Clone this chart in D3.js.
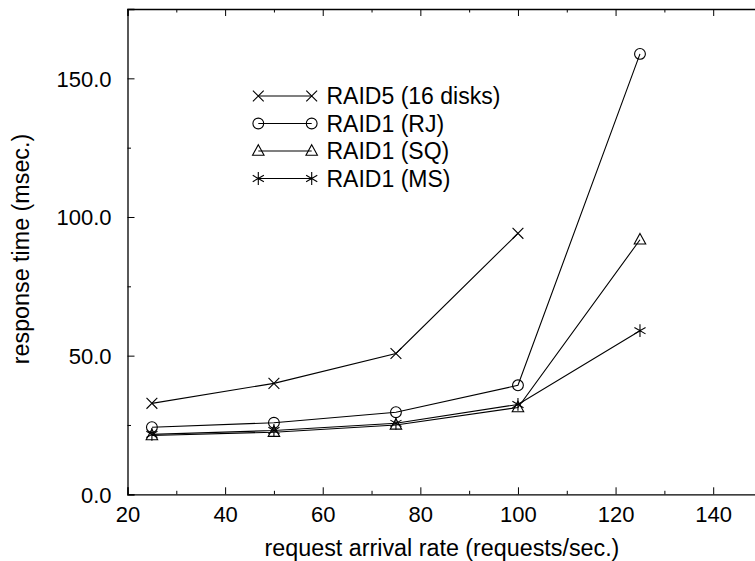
<!DOCTYPE html>
<html>
<head>
<meta charset="utf-8">
<script src="https://cdn.jsdelivr.net/npm/d3@7"></script>
<style>
  html, body { margin: 0; padding: 0; background: #fff; }
  svg { display: block; }
  text { font-family: "Liberation Sans", Arial, Helvetica, sans-serif; fill: #000; }
</style>
</head>
<body>
<svg id="chart" width="755" height="561"></svg>
<script>
// ---- data ----
const rates = [25, 50, 75, 100, 125];
const raid5 = [32.8, 40.0, 50.8, 94.1];
const raid1RJ = [24.2, 25.8, 29.6, 39.3, 158.8];
const raid1SQ = [21.2, 22.4, 25.0, 31.3, 91.8];
const raid1MS = [21.6, 23.0, 25.6, 32.4, 59.0];
const seriesNames = ["RAID5 (16 disks)", "RAID1 (RJ)", "RAID1 (SQ)", "RAID1 (MS)"];
const xTicks = [20, 40, 60, 80, 100, 120, 140, 150];
const xMinor = [30, 50, 70, 90, 110, 130, 150];
const yTicks = [0, 50, 100, 150];
const yMinor = [25, 75, 125, 175];
const xTitle = "request arrival rate (requests/sec.)";
const yTitle = "response time (msec.)";

const series = [
  { name: seriesNames[0], values: raid5, marker: "x" },
  { name: seriesNames[1], values: raid1RJ, marker: "o" },
  { name: seriesNames[2], values: raid1SQ, marker: "tri" },
  { name: seriesNames[3], values: raid1MS, marker: "star" }
];

const svg = d3.select("#chart");
const pLeft = 127.5, pRight = 762, pTop = 9, pBottom = 494.3;
const x = d3.scaleLinear().domain([20, 150]).range([pLeft, pRight]);
const y = d3.scaleLinear().domain([0, 175]).range([pBottom, pTop]);

// axes
const gx = svg.append("g").attr("transform", `translate(0,${pBottom})`)
  .call(d3.axisBottom(x).tickValues(xTicks.filter(v => v < 150)).tickSize(-7).tickPadding(12).tickFormat(d3.format("d")));
const gxm = svg.append("g").attr("transform", `translate(0,${pBottom})`)
  .call(d3.axisBottom(x).tickValues(xMinor).tickSize(-3.5).tickFormat(""));
const gxt = svg.append("g").attr("transform", `translate(0,${pTop})`)
  .call(d3.axisTop(x).tickValues(xTicks).tickSize(-7).tickFormat(""));
const gxtm = svg.append("g").attr("transform", `translate(0,${pTop})`)
  .call(d3.axisTop(x).tickValues(xMinor).tickSize(-3.5).tickFormat(""));
const gy = svg.append("g").attr("transform", `translate(${pLeft},0)`)
  .call(d3.axisLeft(y).tickValues(yTicks).tickSize(-7).tickPadding(16).tickFormat(d3.format(".1f")));
const gym = svg.append("g").attr("transform", `translate(${pLeft},0)`)
  .call(d3.axisLeft(y).tickValues(yMinor).tickSize(-3.5).tickFormat(""));

[gx, gxm, gxt, gxtm, gy, gym].forEach(g => {
  g.selectAll("path.domain").attr("stroke", "#000").attr("stroke-width", 1.3);
  g.selectAll(".tick line").attr("stroke", "#000").attr("stroke-width", 1);
  g.selectAll("text").attr("font-size", 22).attr("fill", "#000")
    .style("font-family", "'Liberation Sans', Arial, sans-serif");
});
gxm.select("path.domain").remove();
gxtm.select("path.domain").remove();
gym.select("path.domain").remove();
gx.selectAll(".tick text").attr("dy", "0.72em");
gy.selectAll(".tick text").attr("dy", "0.36em");

// titles
svg.append("text").attr("x", 442).attr("y", 556).attr("text-anchor", "middle")
  .attr("font-size", 23.3).text(xTitle);
svg.append("text").attr("transform", "translate(29,249) rotate(-90)").attr("text-anchor", "middle")
  .attr("font-size", 23.3).text(yTitle);

// markers
function drawMarker(g, type, cx, cy) {
  const s = 5.4;
  if (type === "x") {
    g.append("path").attr("d", `M${cx - s},${cy - s}L${cx + s},${cy + s}M${cx - s},${cy + s}L${cx + s},${cy - s}`)
      .attr("stroke", "#000").attr("stroke-width", 1.1).attr("fill", "none");
  } else if (type === "o") {
    g.append("circle").attr("cx", cx).attr("cy", cy).attr("r", 5.4)
      .attr("stroke", "#000").attr("stroke-width", 1.1).attr("fill", "none");
  } else if (type === "tri") {
    const h = 10.5, w = 11.5;
    g.append("path").attr("d", `M${cx},${cy - h * 0.6}L${cx + w / 2},${cy + h * 0.4}L${cx - w / 2},${cy + h * 0.4}Z`)
      .attr("stroke", "#000").attr("stroke-width", 1.1).attr("fill", "none");
  } else if (type === "star") {
    const r = 6.4;
    let d = `M${cx},${cy - r}L${cx},${cy + r}`;
    d += `M${cx - r * 0.87},${cy - r * 0.5}L${cx + r * 0.87},${cy + r * 0.5}`;
    d += `M${cx - r * 0.87},${cy + r * 0.5}L${cx + r * 0.87},${cy - r * 0.5}`;
    g.append("path").attr("d", d).attr("stroke", "#000").attr("stroke-width", 1.1).attr("fill", "none");
  }
}

const line = d3.line().x(d => x(d[0])).y(d => y(d[1]));
const plot = svg.append("g");
series.forEach(s => {
  const pts = s.values.map((v, i) => [rates[i], v]);
  plot.append("path").datum(pts).attr("d", line)
    .attr("fill", "none").attr("stroke", "#000").attr("stroke-width", 1.1);
  const mg = plot.append("g");
  pts.forEach(p => drawMarker(mg, s.marker, x(p[0]), y(p[1])));
});

// legend
const lg = svg.append("g");
const legX1 = 258.3, legX2 = 311.7, legText = 326.5, legY0 = 96, legDy = 27.5;
series.forEach((s, i) => {
  const ly = legY0 + i * legDy;
  lg.append("line").attr("x1", legX1).attr("x2", legX2).attr("y1", ly).attr("y2", ly)
    .attr("stroke", "#000").attr("stroke-width", 1.1);
  drawMarker(lg, s.marker, legX1, ly);
  drawMarker(lg, s.marker, legX2, ly);
  lg.append("text").attr("x", legText).attr("y", ly).attr("dy", "0.36em")
    .attr("font-size", 23).text(s.name);
});
</script>
</body>
</html>
